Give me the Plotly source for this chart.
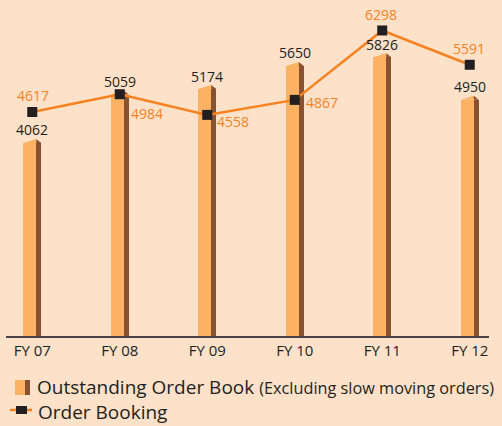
import plotly.graph_objects as go

# data
years = ["FY 07", "FY 08", "FY 09", "FY 10", "FY 11", "FY 12"]
order_book = [4062, 5059, 5174, 5650, 5826, 4950]
order_booking = [4617, 4984, 4558, 4867, 6298, 5591]

# pixel offsets of the orange labels from their markers
booking_label_dx = [1, 27, 26, 27, -1, -1]
booking_label_dy = [17, -19, -7, -3, 16, 16]

BG = "#FDE1C9"
FRONT = "#FBB363"
SIDE = "#8A5131"
LINE = "#F7821F"
DARK = "#231F20"
FONT = "Open Sans"

W, H = 502, 426
ML, MR, MT, MB = 6, 13, 10, 90
PW, PH = W - ML - MR, H - MT - MB

x = list(range(len(years)))
y_max = 6720
px_per_unit = PH / y_max
roof = 4 / px_per_unit  # height of the slanted bar top, in data units


def paper_x(px):
    return (px - ML) / PW


def paper_y(py):
    return (H - MB - py) / PH


fig = go.Figure()

# front face and side face of the pseudo-3d bars
fig.add_trace(go.Bar(
    x=x, y=[v - roof for v in order_book], base=0,
    width=0.149, offset=-0.103,
    marker=dict(color=FRONT, line=dict(width=0)),
    hoverinfo="skip",
))
fig.add_trace(go.Bar(
    x=x, y=[v - roof for v in order_book], base=0,
    width=0.057, offset=0.046,
    marker=dict(color=SIDE, line=dict(width=0)),
    hoverinfo="skip",
))

# slanted caps on top of the bars
fx, fy, sx, sy = [], [], [], []
for i, v in zip(x, order_book):
    fx += [i - 0.103, i + 0.046, i + 0.046, i - 0.103, None]
    fy += [v - roof, v, v - roof, v - roof, None]
    sx += [i + 0.046, i + 0.103, i + 0.103, i + 0.046, None]
    sy += [v, v - roof, v - roof, v - roof, None]
fig.add_trace(go.Scatter(x=fx, y=fy, fill="toself", fillcolor=FRONT, mode="none",
                         hoverinfo="skip"))
fig.add_trace(go.Scatter(x=sx, y=sy, fill="toself", fillcolor=SIDE, mode="none",
                         hoverinfo="skip"))

fig.add_trace(go.Scatter(
    x=x, y=order_booking, mode="lines+markers",
    line=dict(color=LINE, width=2.5),
    marker=dict(symbol="square", size=10, color=DARK),
    hoverinfo="skip",
))

annotations = []
for i, v in zip(x, order_book):
    annotations.append(dict(x=i, y=v, xref="x", yref="y", text=str(v), showarrow=False,
                            yshift=9, font=dict(color=DARK, size=14, family=FONT)))
for i, v, dx, dy in zip(x, order_booking, booking_label_dx, booking_label_dy):
    annotations.append(dict(x=i, y=v, xref="x", yref="y", text=str(v), showarrow=False,
                            xshift=dx, yshift=dy, font=dict(color=LINE, size=14, family=FONT)))

# hand-built legend
annotations.append(dict(
    x=paper_x(35), y=paper_y(387), xref="paper", yref="paper", xanchor="left", yanchor="middle",
    showarrow=False, font=dict(color=DARK, size=19, family=FONT),
    text="Outstanding Order Book <span style='font-size:16.3px'>(Excluding slow moving orders)</span>",
))
annotations.append(dict(
    x=paper_x(36), y=paper_y(412), xref="paper", yref="paper", xanchor="left", yanchor="middle",
    showarrow=False, font=dict(color=DARK, size=19, family=FONT), text="Order Booking",
))
shapes = [
    dict(type="rect", xref="paper", yref="paper", x0=paper_x(15), x1=paper_x(25),
         y0=paper_y(395), y1=paper_y(380), fillcolor=FRONT, line=dict(width=0)),
    dict(type="rect", xref="paper", yref="paper", x0=paper_x(25), x1=paper_x(30),
         y0=paper_y(395), y1=paper_y(380), fillcolor=SIDE, line=dict(width=0)),
    dict(type="line", xref="paper", yref="paper", x0=paper_x(10), x1=paper_x(32),
         y0=paper_y(410), y1=paper_y(410), line=dict(color=LINE, width=2.5)),
    dict(type="rect", xref="paper", yref="paper", x0=paper_x(16), x1=paper_x(27),
         y0=paper_y(414), y1=paper_y(406), fillcolor=DARK, line=dict(width=0)),
]

fig.update_layout(
    width=W, height=H,
    margin=dict(l=ML, r=MR, t=MT, b=MB, autoexpand=False),
    paper_bgcolor=BG, plot_bgcolor=BG,
    barmode="overlay", bargap=0,
    font=dict(family=FONT, color=DARK),
    xaxis=dict(type="linear", range=[-0.3, 5.22], tickvals=x, ticktext=years, showgrid=False,
               zeroline=False, showline=True, linecolor="#4A4444", linewidth=2,
               ticks="", tickfont=dict(size=15, color=DARK, family=FONT), fixedrange=True,
               automargin=False),
    yaxis=dict(type="linear", range=[0, y_max], visible=False, showgrid=False, fixedrange=True),
    showlegend=False,
    annotations=annotations,
    shapes=shapes,
)

# drop the default page margin so the chart sits at the window's corner
fig.write_html("out.html", config={"displayModeBar": False},
               post_script="document.body.style.margin='0';")
